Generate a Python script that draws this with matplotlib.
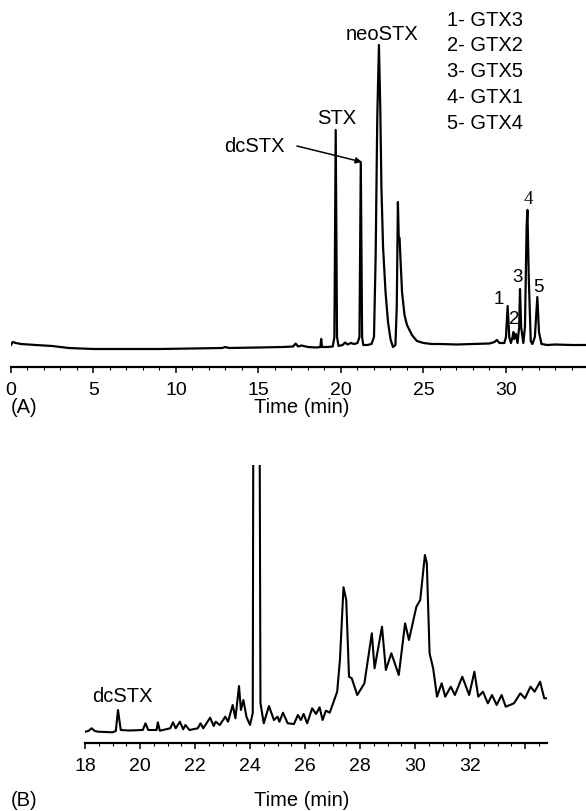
import matplotlib
matplotlib.use("Agg")
import matplotlib.pyplot as plt

plt.rcParams['font.family'] = ['Liberation Sans', 'DejaVu Sans']

# %% panel A: standard mix, time (min) vs detector signal (arb. units)
time_a = [0.0, 0.1, 0.3, 0.6, 1.5, 2.5, 3.5, 5.0, 7.0, 9.0, 11.0, 12.8, 13.0, 13.2, 15.0, 16.5,
          17.1, 17.25, 17.4, 17.6, 18.0, 18.5, 18.75, 18.8, 18.85, 19.2, 19.5, 19.6, 19.68, 19.76,
          19.85, 20.1, 20.25, 20.4, 20.6, 20.8, 21.0, 21.12, 21.2, 21.28, 21.35, 21.6, 21.85, 22.0,
          22.1, 22.2, 22.3, 22.38, 22.45, 22.55, 22.7, 22.85, 23.0, 23.15, 23.3, 23.38, 23.45, 23.5,
          23.55, 23.6, 23.7, 23.85, 24.0, 24.3, 24.6, 25.0, 25.5, 26.0, 27.0, 28.0, 29.0, 29.3,
          29.45, 29.6, 29.9, 30.0, 30.1, 30.2, 30.3, 30.4, 30.45, 30.5, 30.6, 30.7, 30.8, 30.85,
          30.92, 31.05, 31.15, 31.25, 31.3, 31.38, 31.5, 31.6, 31.75, 31.9, 32.0, 32.15, 32.5,
          33.0, 34.0, 34.85]
signal_a = [22, 25, 24, 23, 22, 21, 19, 18, 18, 18, 18.5, 19, 20, 19, 19.5, 20,
            20.5, 23.5, 20.5, 21.5, 20, 19.5, 20, 28, 20, 20, 20.5, 30, 237, 30,
            21, 22, 24.5, 22.5, 24, 23, 24, 30, 205, 30, 22, 22, 23, 30,
            110, 250, 322, 260, 180, 120, 75, 45, 28, 20, 22, 60, 165, 130,
            129, 110, 75, 52, 42, 32, 26, 24, 23, 23, 22.5, 23, 23.5, 25,
            27, 24, 24, 30, 61, 30, 24, 30, 35, 28, 33, 24, 40, 78,
            40, 24, 40, 140, 157, 90, 26, 23, 30, 70, 35, 23, 22,
            22.5, 22, 22]

# peak names (A)
names_a = ["neoSTX", "STX", "dcSTX"]
gtx_legend = ["1- GTX3", "2- GTX2", "3- GTX5", "4- GTX1", "5- GTX4"]
gtx_numbers = ["1", "2", "3", "4", "5"]

# %% panel B: sample, time (min) vs signal
time_b = [18.0, 18.12, 18.24, 18.36, 18.48, 19.0, 19.12, 19.2, 19.3, 19.6, 20.1, 20.2, 20.3,
          20.6, 20.65, 20.72, 21.1, 21.2, 21.3, 21.45, 21.57, 21.65, 21.8, 22.1, 22.2, 22.3,
          22.55, 22.68, 22.75, 22.9, 23.1, 23.2, 23.37, 23.47, 23.6, 23.67, 23.76, 23.87, 24.0,
          24.1, 24.14, 24.32, 24.38, 24.5, 24.69, 24.87, 25.0, 25.07, 25.2, 25.37, 25.6, 25.74,
          25.85, 25.95, 26.08, 26.26, 26.4, 26.53, 26.64, 26.76, 26.9, 27.17, 27.27, 27.4, 27.5,
          27.6, 27.7, 27.9, 28.05, 28.16, 28.43, 28.53, 28.8, 28.94, 29.14, 29.41, 29.64, 29.78,
          30.05, 30.19, 30.36, 30.43, 30.53, 30.66, 30.8, 30.97, 31.1, 31.3, 31.45, 31.72, 31.97,
          32.16, 32.3, 32.47, 32.65, 32.8, 32.97, 33.15, 33.3, 33.6, 33.83, 34.0, 34.2, 34.35,
          34.55, 34.7, 34.8]
signal_b = [11.3, 12, 14.7, 12, 11.3, 10.7, 12, 33, 13, 12.5, 13, 19.7, 13,
            13, 20.7, 12.3, 14.7, 20.7, 14.7, 21.3, 13.7, 18, 13, 14.7, 19.7, 14.7,
            25.3, 17, 21.3, 18, 26.3, 21.3, 38, 24.7, 57, 33, 43, 26.3, 18,
            30, 600, 600, 40, 19.7, 37, 23, 26.3, 21.3, 30.3, 19.7, 19, 28,
            23, 29, 19.7, 34.7, 29, 35.7, 23, 32.3, 30.3, 51.3, 83, 155.7, 143,
            66.3, 64.7, 48, 54.7, 59.7, 109.7, 74.7, 116.3, 73, 89.7, 68, 119.7, 103,
            136.3, 143, 188, 179.7, 89.7, 74.7, 46.3, 59.7, 46.3, 56.3, 48, 66.3, 48,
            71.3, 46.3, 51.3, 39.7, 48, 38, 48, 36.3, 39.7, 49.7, 44.7, 56.3, 51.3,
            61.3, 44.7, 44.7]

ticks_a = [0, 5, 10, 15, 20, 25, 30]
ticks_b = [18, 20, 22, 24, 26, 28, 30, 32, 34]
ticklabels_b = ["18", "20", "22", "24", "26", "28", "30", "32", ""]

W, H = 586, 811
fig = plt.figure(figsize=(W / 100, H / 100), dpi=100)


def px_axes(x0, x1, ytop, ybot):
    return fig.add_axes([x0 / W, 1 - ybot / H, (x1 - x0) / W, (ybot - ytop) / H])


def style(ax):
    for s in ["top", "left", "right"]:
        ax.spines[s].set_visible(False)
    ax.spines["bottom"].set_linewidth(1.6)
    ax.set_yticks([])
    ax.tick_params(axis="x", which="major", direction="out", length=4, width=1.1,
                   labelsize=14, pad=7)
    ax.tick_params(axis="x", which="minor", direction="out", length=2, width=0.8)


# %% A
ax1 = px_axes(11, 586, 25, 367)
ax1.plot(time_a, signal_a, color="black", lw=1.6)
ax1.set_xlim(0, 34.85)
ax1.set_ylim(0, 342)
ax1.set_xticks(ticks_a)
ax1.set_xticks(range(0, 35), minor=True)
style(ax1)

fs = 14.5
ax1.text(22.48, 332, names_a[0], fontsize=fs, ha="center", va="center")
ax1.text(19.76, 249, names_a[1], fontsize=fs, ha="center", va="center")
ax1.text(16.6, 220, names_a[2], fontsize=fs, ha="right", va="center")
ax1.annotate("", xy=(21.27, 205), xytext=(17.33, 221),
             arrowprops=dict(arrowstyle="-|>", color="black", lw=1.1, mutation_scale=9,
                             shrinkA=0, shrinkB=0))
for i, lab in enumerate(gtx_legend):
    ax1.text(26.42, 347 - i * 25.8, lab, fontsize=fs, ha="left", va="center")

num_pos = [(29.58, 68), (30.48, 48), (30.67, 90), (31.33, 167), (31.94, 79)]
for lab, (tx, ty) in zip(gtx_numbers, num_pos):
    fam = ["Liberation Serif"] if lab == "4" else ["Liberation Sans"]
    ax1.text(tx, ty, lab, fontsize=13.5, ha="center", va="center", family=fam)

fig.text(11 / W, 1 - 408 / H, "(A)", fontsize=fs, ha="left", va="center")
fig.text(302 / W, 1 - 408 / H, "Time (min)", fontsize=fs, ha="center", va="center")

# %% B
ax2 = px_axes(85, 547, 465, 743)
ax2.plot(time_b, signal_b, color="black", lw=1.5)
ax2.set_xlim(18, 34.8)
ax2.set_ylim(0, 278)
ax2.set_xticks(ticks_b)
ax2.set_xticklabels(ticklabels_b)
ax2.set_xticks([18 + 0.5 * k for k in range(34)], minor=True)
style(ax2)

ax2.text(19.35, 46, "dcSTX", fontsize=fs, ha="center", va="center")

fig.text(11 / W, 1 - 800 / H, "(B)", fontsize=fs, ha="left", va="center")
fig.text(302 / W, 1 - 800 / H, "Time (min)", fontsize=fs, ha="center", va="center")

fig.savefig("out.png", dpi=100)
